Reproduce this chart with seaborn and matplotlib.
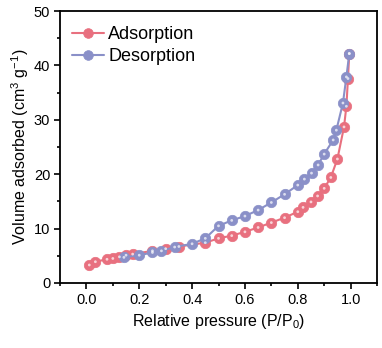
import numpy as np
import pandas as pd
import matplotlib
matplotlib.use("Agg")
import matplotlib.pyplot as plt
import seaborn as sns
from matplotlib.ticker import MultipleLocator

ads_x = [0.011, 0.034, 0.078, 0.10, 0.125, 0.15, 0.175, 0.25, 0.30, 0.35, 0.45, 0.50,
         0.55, 0.60, 0.65, 0.70, 0.75, 0.80, 0.82, 0.85, 0.875, 0.90, 0.925, 0.95,
         0.975, 0.984, 0.99, 0.995]
ads_y = [3.3, 3.9, 4.35, 4.5, 4.8, 5.1, 5.3, 5.9, 6.3, 6.7, 7.4, 8.2,
         8.7, 9.4, 10.2, 11.1, 12.0, 13.1, 13.9, 14.9, 16.0, 17.4, 19.4, 22.8,
         28.7, 32.5, 37.6, 42.2]
des_x = [0.995, 0.984, 0.971, 0.946, 0.934, 0.90, 0.877, 0.852, 0.825, 0.80, 0.75, 0.70,
         0.65, 0.60, 0.55, 0.50, 0.45, 0.40, 0.334, 0.284, 0.25, 0.20, 0.142]
des_y = [42.2, 37.9, 33.1, 28.1, 26.3, 23.7, 21.7, 20.2, 19.1, 18.0, 16.3, 14.8,
         13.4, 12.3, 11.5, 10.5, 8.2, 7.2, 6.6, 5.9, 5.6, 5.1, 4.7]

sns.set_style("ticks")
plt.rcParams['font.family'] = ['Liberation Sans', 'DejaVu Sans']
plt.rcParams['mathtext.fontset'] = 'custom'
plt.rcParams['mathtext.rm'] = 'Liberation Sans'
plt.rcParams['mathtext.it'] = 'Liberation Sans:italic'
plt.rcParams['text.color'] = 'black'
plt.rcParams['axes.labelcolor'] = 'black'
plt.rcParams['xtick.color'] = 'black'
plt.rcParams['ytick.color'] = 'black'

red = "#E8707F"
blue = "#8A90C8"

fig = plt.figure(figsize=(3.82, 3.48), dpi=100)
ax = fig.add_axes([0.157, 0.187, 0.83, 0.781])

df_a = pd.DataFrame({"x": ads_x, "y": ads_y})
df_d = pd.DataFrame({"x": des_x, "y": des_y})

sns.lineplot(data=df_a, x="x", y="y", sort=False, ax=ax, color=red, lw=1.5,
             marker="o", markersize=7.5, markeredgecolor=red, markeredgewidth=0.5,
             label="Adsorption")
sns.lineplot(data=df_d, x="x", y="y", sort=False, ax=ax, color=blue, lw=1.5,
             marker="o", markersize=7.5, markeredgecolor=blue, markeredgewidth=0.5,
             label="Desorption")
# highlights on the spheres
for d in (df_a, df_d):
    sns.scatterplot(data=d, x="x", y="y", ax=ax, s=4, color="white", alpha=0.7,
                    edgecolor="none", legend=False, zorder=5)

ax.set_xlim(-0.1, 1.1)
ax.set_ylim(0, 50)
ax.xaxis.set_major_locator(MultipleLocator(0.2))
ax.xaxis.set_minor_locator(MultipleLocator(0.1))
ax.yaxis.set_major_locator(MultipleLocator(10))
ax.yaxis.set_minor_locator(MultipleLocator(5))
ax.set_xticks(np.arange(0, 1.01, 0.2))
ax.set_xticklabels(["0.0", "0.2", "0.4", "0.6", "0.8", "1.0"])
ax.tick_params(axis='both', which='major', direction='out', length=4, width=1.2,
               labelsize=10.5, pad=3, colors='black')
ax.tick_params(axis='both', which='minor', direction='out', length=2.5, width=1.2)
for s in ax.spines.values():
    s.set_linewidth(1.3)
    s.set_color('black')
    s.set_visible(True)

ax.set_xlabel("Relative pressure (P/P$_0$)", fontsize=11.5, labelpad=4)
ax.set_ylabel("Volume adsorbed (cm$^3$ g$^{-1}$)", fontsize=11.5, labelpad=2)

leg = ax.legend(loc="upper left", frameon=False, fontsize=13, handlelength=1.75,
                handletextpad=0.25, labelspacing=0.25, borderaxespad=0.45,
                bbox_to_anchor=(-0.01, 1.0))
for h in leg.legend_handles:
    h.set_markersize(7)

fig.savefig("out.png", dpi=100)
